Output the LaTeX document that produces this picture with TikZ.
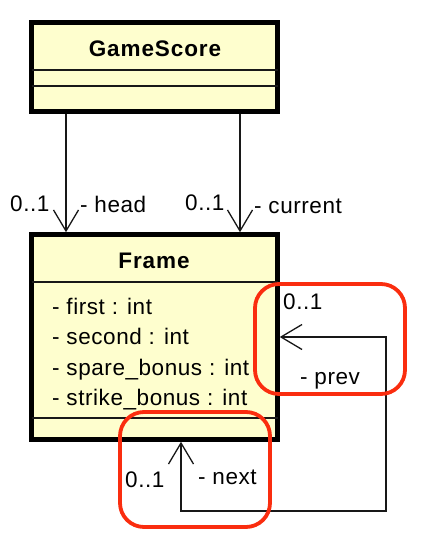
\documentclass[tikz,border=0pt]{standalone}
\usepackage{fontspec}
\setmainfont{Liberation Sans}[LetterSpace=2.5]
\usetikzlibrary{arrows.meta}
\definecolor{classfill}{HTML}{FEFECE}
\definecolor{markred}{RGB}{250,45,15}
\definecolor{linegray}{HTML}{181818}
\tikzset{
  classbox/.style={draw=black, line width=4.5pt, fill=classfill, minimum width=246pt, inner sep=0pt},
  sepline/.style={draw=linegray, line width=1.4pt},
  assoc/.style={draw=linegray, line width=1.3pt, -{Straight Barb[length=21pt, width=25pt, line width=1.3pt]}},
  assocboth/.style={draw=linegray, line width=1.3pt, {Straight Barb[length=21pt, width=25pt, line width=1.3pt]}-{Straight Barb[length=21pt, width=25pt, line width=1.3pt]}},
  txt/.style={inner sep=0pt, anchor=base west, font=\fontsize{22.5pt}{27pt}\selectfont},
  title/.style={inner sep=0pt, anchor=base, font=\fontsize{22.5pt}{27pt}\selectfont\bfseries\addfontfeature{LetterSpace=4}},
  hilite/.style={draw=markred, line width=3.8pt, rounded corners=24pt}
}
\begin{document}
\begin{tikzpicture}[x=1pt, y=-1pt]
\useasboundingbox (0,0) rectangle (438,559);
% classes
\node[classbox, minimum height=89pt] (gs) at (154.5,67) {};
\node[classbox, minimum height=205pt] (fr) at (154.5,337) {};
\draw[sepline] (31.5,70) -- (277.5,70);
\draw[sepline] (31.5,86) -- (277.5,86);
\draw[sepline] (31.5,282) -- (277.5,282);
\draw[sepline] (31.5,418) -- (277.5,418);
\node[title] (gst) at (155,57) {GameScore};
\node[title] (frt) at (154,268) {Frame};
\node[txt] (a1) at (52,314) {- first : int};
\node[txt] (a2) at (52,344.5) {- second : int};
\node[txt] (a3) at (52,375) {- spare\_bonus : int};
\node[txt] (a4) at (52,405) {- strike\_bonus : int};
% associations
\coordinate (hx) at (66,0);
\coordinate (cx) at (240,0);
\draw[assoc] (gs.south -| hx) -- (fr.north -| hx);
\draw[assoc] (gs.south -| cx) -- (fr.north -| cx);
\node[txt] (hm) at (10,211) {0..1};
\node[txt] (hr) at (80,212) {- head};
\node[txt] (cm) at (185,210) {0..1};
\node[txt] (cr) at (254,213) {- current};
% self association
\coordinate (lb) at (181,511);
\coordinate (rb) at (386,511);
\coordinate (rt) at (386,337);
\draw[assocboth] (fr.south -| lb) -- (lb) -- (rb) -- (rt) -- (fr.east |- rt);
\node[txt] (pm) at (283,309) {0..1};
\node[txt] (pr) at (300,384) {- prev};
\node[txt] (nm) at (125,487) {0..1};
\node[txt] (nr) at (198,484) {- next};
% highlight marks
\draw[hilite] (255,284) rectangle (405,394);
\draw[hilite] (120,412) rectangle (270,527);
\end{tikzpicture}
\end{document}
